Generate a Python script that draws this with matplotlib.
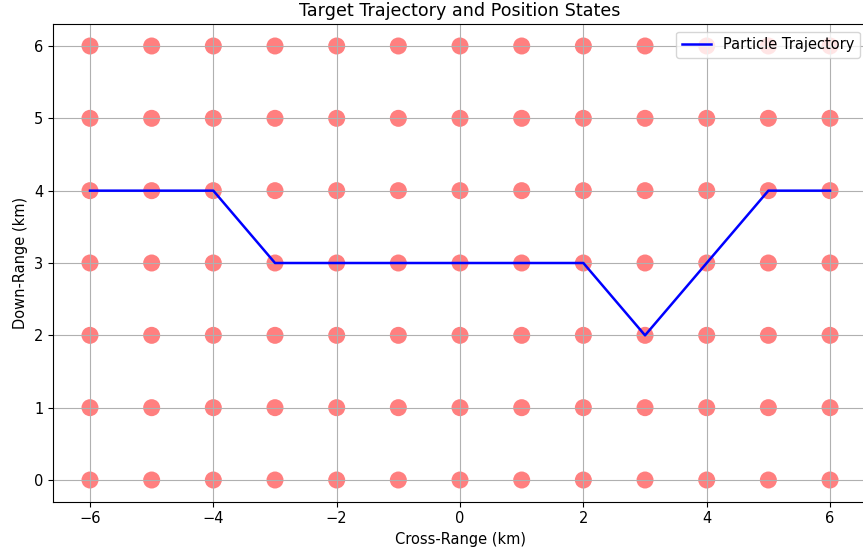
import numpy as np
import matplotlib
matplotlib.use('Agg')
import matplotlib.pyplot as plt

# 位置状态网格
cross_range = [-6, -5, -4, -3, -2, -1, 0, 1, 2, 3, 4, 5, 6]
down_range = [0, 1, 2, 3, 4, 5, 6]

# 粒子轨迹
traj_x = [-6, -5, -4, -3, -2, -1, 0, 1, 2, 3, 4, 5, 6]
traj_y = [4, 4, 4, 3, 3, 3, 3, 3, 3, 2, 3, 4, 4]

def plot_states():
    plt.rcParams['font.size'] = 10.5
    fig = plt.figure(figsize=(8.63, 5.52), dpi=100)
    ax = fig.add_axes([0.0614, 0.0911, 0.9433, 0.8649])

    gx, gy = np.meshgrid(cross_range, down_range)
    ax.scatter(gx.ravel(), gy.ravel(), color='red', alpha=0.5, s=150,
               edgecolors='none')
    ax.plot(traj_x, traj_y, color='blue', linewidth=1.8, label='Particle Trajectory')

    ax.set_title("Target Trajectory and Position States", fontsize=12.6)
    ax.set_xlabel("Cross-Range (km)")
    ax.set_ylabel("Down-Range (km)")
    ax.set_xlim(-6.6, 6.6)
    ax.set_ylim(-0.3, 6.3)
    ax.legend(loc='upper right')
    ax.grid(True)
    fig.savefig('out.png')
    plt.close(fig)

plot_states()
